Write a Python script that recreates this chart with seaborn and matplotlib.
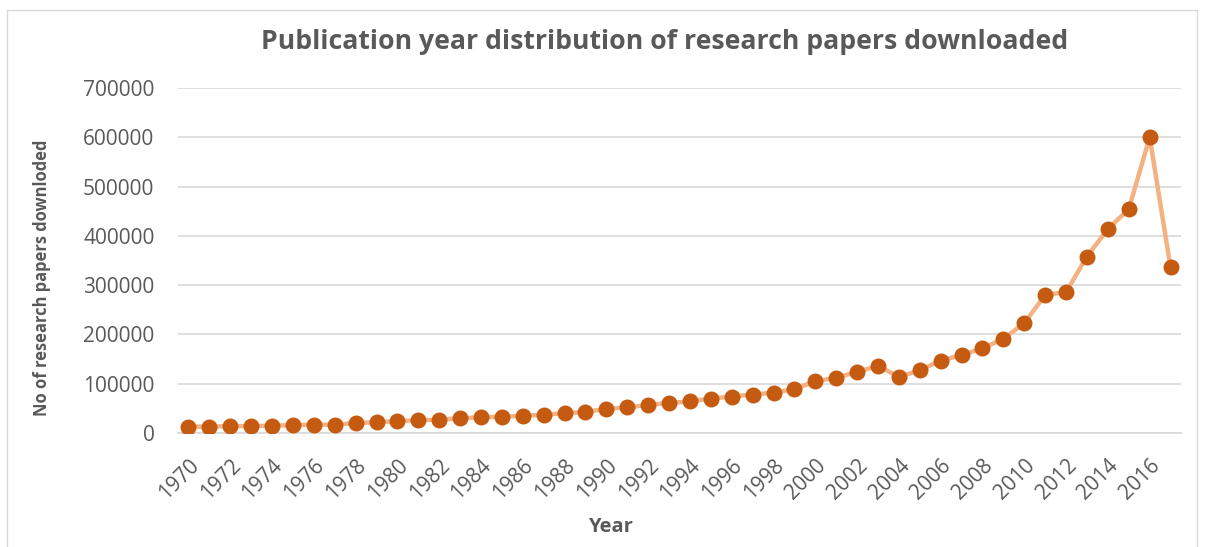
import matplotlib
matplotlib.use("Agg")
import matplotlib.pyplot as plt
import seaborn as sns
import pandas as pd
from matplotlib.patches import Rectangle

years = list(range(1970, 2018))
papers = [13000, 13000, 14000, 14000, 15000, 16000, 17000, 17000, 20000, 22000,
          24000, 26000, 27000, 30000, 32000, 33000, 35000, 37000, 40000, 43000,
          49000, 52000, 57000, 61000, 64000, 70000, 74000, 78000, 82000, 89000,
          105000, 112000, 124000, 136000, 114000, 127000, 147000, 158000, 172000, 191000,
          223000, 280000, 286000, 358000, 414000, 454000, 600000, 336000]
xtick_years = list(range(1970, 2017, 2))
ytick_vals = [0, 100000, 200000, 300000, 400000, 500000, 600000, 700000]

title = "Publication year distribution of research papers downloaded"
xlabel = "Year"
ylabel = "No of research papers downloded"

sns.set_style("white")
plt.rcParams['font.family'] = ['Open Sans', 'DejaVu Sans']

df = pd.DataFrame({"year": years, "papers": papers})

W, H = 1205, 547
fig = plt.figure(figsize=(W / 100, H / 100), dpi=100)
ax = fig.add_axes([178 / W, 1 - 433 / H, (1181 - 178) / W, (433 - 88) / H])

sns.lineplot(data=df, x="year", y="papers", ax=ax, color="#F4B183", linewidth=3.2,
             marker="o", markersize=11.5, markerfacecolor="#C55A11",
             markeredgecolor="#C55A11", markeredgewidth=0, zorder=3)

ax.set_xlim(1969.5, 2017.5)
ax.set_ylim(0, 700000)
ax.set_yticks(ytick_vals)
ax.set_yticklabels([str(v) for v in ytick_vals])
ax.set_xticks(xtick_years)
ax.set_xticklabels([str(y) for y in xtick_years], rotation=45, ha="right",
                   rotation_mode="anchor")
ax.tick_params(axis="both", length=0, labelcolor="#595959")
ax.tick_params(axis="y", labelsize=15, pad=17)
ax.tick_params(axis="x", labelsize=15, pad=16)
ax.grid(axis="y", color="#D9D9D9", linewidth=1.2)
ax.set_axisbelow(True)
for s in ["top", "right", "left"]:
    ax.spines[s].set_visible(False)
ax.spines["bottom"].set_color("#D9D9D9")
ax.spines["bottom"].set_linewidth(1.2)
ax.set_xlabel("")
ax.set_ylabel("")

fig.text(665 / W, 1 - 42 / H, title, ha="center", va="center", fontsize=19.2,
         fontweight="bold", color="#595959")
fig.text(42 / W, 1 - 278 / H, ylabel, ha="center", va="center", rotation=90,
         fontsize=11.9, fontweight="bold", color="#595959")
fig.text(610 / W, 1 - 527 / H, xlabel, ha="center", va="center", fontsize=14.5,
         fontweight="bold", color="#595959")

fig.patches.append(Rectangle((7 / W, -0.01), (1197 - 7) / W, 1 - 10 / H + 0.01,
                             transform=fig.transFigure, fill=False,
                             edgecolor="#D9D9D9", linewidth=1))

fig.savefig("out.png", dpi=100)
